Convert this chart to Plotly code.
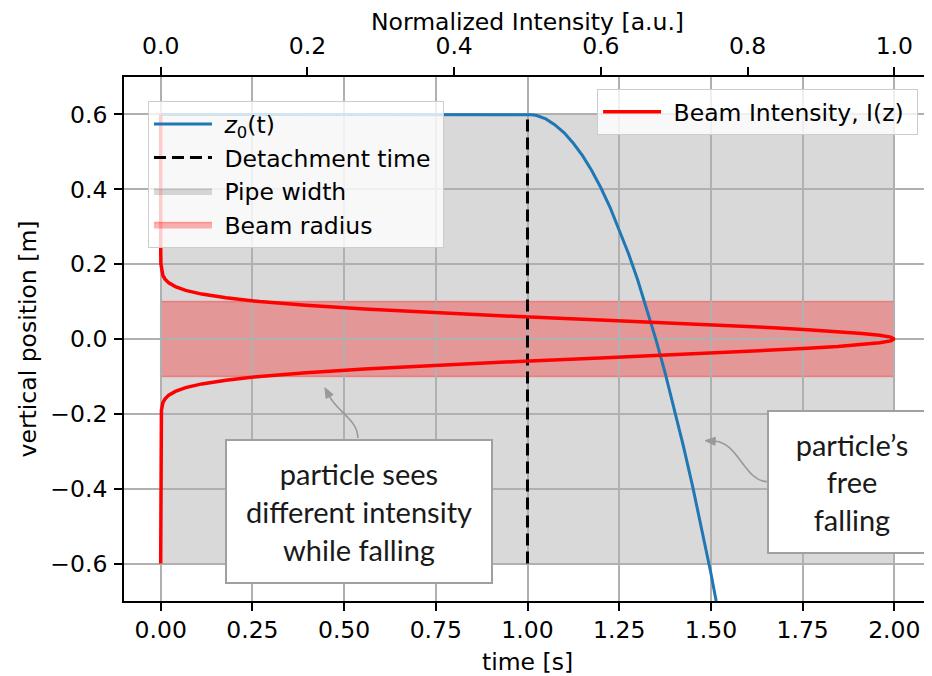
import plotly.graph_objects as go

# ---------------- data ----------------
# particle trajectory z0(t)
t_traj = [0.0, 1.0, 1.0125, 1.025, 1.0375, 1.05, 1.075, 1.10, 1.125, 1.15, 1.175, 1.20, 1.225,
          1.25, 1.275, 1.30, 1.325, 1.35, 1.375, 1.40, 1.425, 1.45, 1.475, 1.50, 1.55]
z_traj = [0.6, 0.6, 0.599, 0.597, 0.593, 0.588, 0.572, 0.551, 0.523, 0.490, 0.450, 0.404, 0.352,
          0.293, 0.229, 0.159, 0.082, -0.001, -0.090, -0.185, -0.286, -0.393, -0.507, -0.626, -0.884]

# detachment time
t_detach = 1.0
z_detach = [-0.6, 0.6]

# pipe width and beam radius (vertical extents) over time span
t_span = [0.0, 2.0]
pipe_half = 0.6
beam_half = 0.1

# beam intensity profile (upper half, z >= 0); mirrored for z < 0
z_half = [0.0, 0.005, 0.01, 0.015, 0.02, 0.025, 0.03, 0.035, 0.04, 0.045, 0.05, 0.06, 0.07, 0.08,
          0.09, 0.10, 0.11, 0.12, 0.13, 0.14, 0.15, 0.16, 0.17, 0.18, 0.19, 0.20, 0.25, 0.30, 0.60]
i_half = [1.000, 0.995, 0.980, 0.956, 0.923, 0.882, 0.835, 0.783, 0.726, 0.667, 0.607, 0.487, 0.375,
          0.278, 0.198, 0.135, 0.089, 0.056, 0.034, 0.020, 0.011, 0.006, 0.003, 0.002, 0.001, 0.0003,
          0.0, 0.0, 0.0]

x_ticks = [0.0, 0.25, 0.5, 0.75, 1.0, 1.25, 1.5, 1.75, 2.0]
x2_ticks = [0.0, 0.2, 0.4, 0.6, 0.8, 1.0]
y_ticks = [-0.6, -0.4, -0.2, 0.0, 0.2, 0.4, 0.6]

z_beam = [-z for z in reversed(z_half)] + z_half[1:]
i_beam = list(reversed(i_half)) + i_half[1:]

# ---------------- figure ----------------
GRID = "#b0b0b0"
PIPE = "rgba(128,128,128,0.3)"
BEAM = "rgba(255,0,0,0.3)"
FS = 23.5
MPL_FONT = "DejaVu Sans"
SP = "\u00a0"

fig = go.Figure()

fig.add_trace(go.Scatter(x=t_traj, y=z_traj, mode="lines", name=SP + "<i>z</i><sub>0</sub>(t)",
                         line=dict(color="#1f77b4", width=3), legend="legend", legendgroup="a"))
fig.add_trace(go.Scatter(x=[t_detach, t_detach], y=z_detach, mode="lines",
                         name=SP + "Detachment time" + SP,
                         line=dict(color="black", width=3, dash="12px,6px"), legend="legend",
                         legendgroup="b"))
# legend-only entries for the filled regions (regions drawn as shapes below the grid)
fig.add_trace(go.Scatter(x=[None], y=[None], mode="lines", fill="toself", name=SP + "Pipe width",
                         fillcolor=PIPE, line=dict(color=PIPE, width=1.5), legend="legend",
                         legendgroup="c"))
fig.add_trace(go.Scatter(x=[None], y=[None], mode="lines", fill="toself", name=SP + "Beam radius",
                         fillcolor=BEAM, line=dict(color=BEAM, width=1.5), legend="legend",
                         legendgroup="d"))
fig.add_trace(go.Scatter(x=i_beam, y=z_beam, mode="lines", name=SP + "Beam Intensity, I(z)" + SP,
                         line=dict(color="red", width=3.5), xaxis="x2", yaxis="y", legend="legend2"))

fig.add_shape(type="rect", xref="x", yref="y", x0=t_span[0], x1=t_span[1],
              y0=-pipe_half, y1=pipe_half, fillcolor=PIPE, line=dict(color=PIPE, width=1),
              layer="below")
fig.add_shape(type="rect", xref="x", yref="y", x0=t_span[0], x1=t_span[1],
              y0=-beam_half, y1=beam_half, fillcolor=BEAM, line=dict(color=BEAM, width=1.5),
              layer="below")

# curved annotation arrows (curve + filled arrowhead)
ARROW = "#999999"
fig.add_shape(type="path", xref="x", yref="y", layer="above",
              path="M 0.5375,-0.2644 C 0.5375,-0.2164 0.4829,-0.1951 0.4606,-0.1537",
              line=dict(color=ARROW, width=1.6))
fig.add_shape(type="path", xref="x", yref="y", layer="above",
              path="M 0.4475,-0.1302 L 0.4701,-0.1486 L 0.4510,-0.1588 Z",
              fillcolor=ARROW, line=dict(color=ARROW, width=1))
fig.add_shape(type="path", xref="x", yref="y", layer="above",
              path="M 1.6535,-0.3811 C 1.5934,-0.3811 1.5743,-0.2770 1.5116,-0.2733",
              line=dict(color=ARROW, width=1.6))
fig.add_shape(type="path", xref="x", yref="y", layer="above",
              path="M 1.4843,-0.2716 L 1.5121,-0.2626 L 1.5111,-0.2839 Z",
              fillcolor=ARROW, line=dict(color=ARROW, width=1))

BOXFONT = dict(family="Lato, 'Open Sans', sans-serif", size=29, color="#1a1a1a")
fig.add_annotation(x=0.540, y=-0.460, xref="x", yref="y",
                   text="particle sees<br>different intensity<br>while falling",
                   showarrow=False, font=BOXFONT, bgcolor="white", bordercolor="#a0a0a0",
                   borderwidth=2, borderpad=0, width=264, height=141, align="center",
                   valign="middle", xanchor="center", yanchor="middle")
fig.add_annotation(x=1.885, y=-0.381, xref="x", yref="y",
                   text="particle’s<br>free<br>falling",
                   showarrow=False, font=BOXFONT, bgcolor="white", bordercolor="#a0a0a0",
                   borderwidth=2, borderpad=0, width=166, height=140, align="center",
                   valign="middle", xanchor="center", yanchor="middle")

axis_common = dict(ticks="outside", ticklen=8, tickwidth=1.6, tickcolor="black",
                   showline=True, linecolor="black", linewidth=1.8, zeroline=False,
                   automargin=False, tickfont=dict(family=MPL_FONT, size=FS))
TITLEFONT = dict(family=MPL_FONT, size=FS, color="black")

# the page body adds an 8px offset: figure is sized so the plot area lands where the reference has it
fig.update_layout(
    width=924, height=668,
    margin=dict(l=116, r=1, t=69, b=75),
    plot_bgcolor="white", paper_bgcolor="white",
    font=dict(family=MPL_FONT, size=FS, color="black"),
    xaxis=dict(range=[-0.1, 2.1], tickvals=x_ticks, tickformat=".2f", showgrid=True,
               gridcolor=GRID, gridwidth=1.5,
               title=dict(text="time [s]", standoff=17, font=TITLEFONT),
               ticklabelstandoff=-1, **axis_common),
    xaxis2=dict(range=[-0.05, 1.05], tickvals=x2_ticks, tickformat=".1f", overlaying="x",
                side="top", anchor="y", showgrid=False,
                title=dict(text="Normalized Intensity [a.u.]", standoff=6, font=TITLEFONT),
                ticklabelstandoff=4, **axis_common),
    yaxis=dict(range=[-0.7, 0.7], tickvals=y_ticks, tickformat=".1f", showgrid=True,
               gridcolor=GRID, gridwidth=1.5, mirror=True,
               title=dict(text="vertical position [m]", standoff=7, font=TITLEFONT),
               ticklabelstandoff=2, **axis_common),
    legend=dict(x=0.0297, y=0.954, xanchor="left", yanchor="top",
                bgcolor="rgba(255,255,255,0.8)", bordercolor="#cccccc", borderwidth=1,
                font=dict(family=MPL_FONT, size=FS), itemwidth=58, tracegroupgap=0,
                traceorder="grouped"),
    legend2=dict(x=0.984, y=0.977, xanchor="right", yanchor="top",
                 bgcolor="rgba(255,255,255,0.8)", bordercolor="#cccccc", borderwidth=1,
                 font=dict(family=MPL_FONT, size=FS), itemwidth=58),
    showlegend=True,
)

fig.write_html("out.html")
